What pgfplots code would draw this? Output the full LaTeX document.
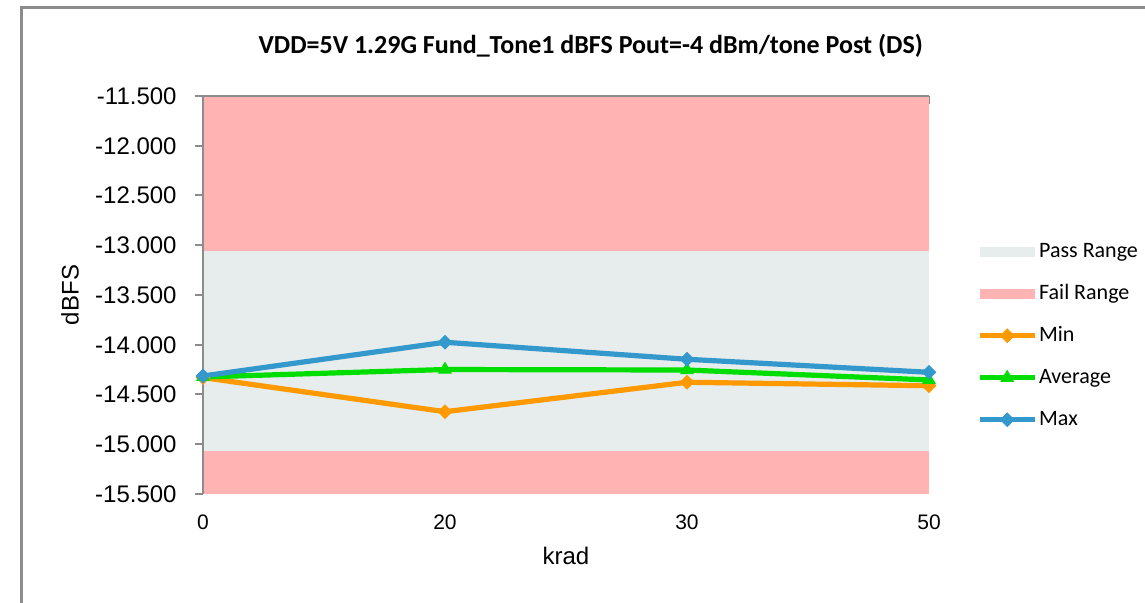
\documentclass[border=0pt]{standalone}
\usepackage{fontspec}
\setmainfont{Liberation Sans}
\newfontfamily\carlito{Carlito}
\usepackage{pgfplots}
\pgfplotsset{compat=1.18}

\definecolor{passgray}{RGB}{231,236,236}
\definecolor{failpink}{RGB}{255,179,179}
\definecolor{minorange}{RGB}{255,153,0}
\definecolor{avggreen}{RGB}{0,221,0}
\definecolor{maxblue}{RGB}{51,153,204}
\definecolor{axgray}{RGB}{140,140,140}

\begin{document}
\begin{tikzpicture}
\begin{axis}[
    scale only axis,
    width=363pt, height=199pt,
    at={(0pt,0pt)}, anchor=south west,
    xmin=0, xmax=3, ymin=-15.5, ymax=-11.5,
    xtick={0,1,2,3}, xticklabels={0,20,30,50},
    ytick={-15.5,-15,...,-11.5},
    axis line style={draw=none},
    xtick pos=upper, xticklabel pos=lower,
    ytick pos=left,
    x tick style={axgray, line width=1pt},
    y tick style={axgray, line width=1pt},
    xtick align=inside, ytick align=outside,
    major tick length=4pt,
    xticklabel style={font=\fontsize{10.5}{12}\selectfont, anchor=center, yshift=-14pt},
    yticklabel style={font=\fontsize{12}{14}\selectfont, anchor=east, inner sep=0pt, xshift=-9pt},
    /pgf/number format/.cd, fixed, fixed zerofill, precision=3, 1000 sep={}, assume math mode=true,
    /pgfplots/.cd,
    xlabel={krad}, ylabel={dBFS},
    xlabel style={font=\fontsize{12}{14}\selectfont, at={(rel axis cs:0.5,-0.156)}, anchor=center},
    ylabel style={font=\fontsize{12}{14}\selectfont, at={(rel axis cs:-0.183,0.5)}, anchor=center},
    legend style={draw=none, fill=none, at={(rel axis cs:1.066,0.636)}, anchor=north west,
        inner sep=0pt, row sep=10.5pt,
        font=\carlito\fontsize{11}{12}\selectfont,
        nodes={inner ysep=0pt, inner xsep=1pt, text height=8pt, text depth=2.5pt}},
    legend cell align=left,
    legend image code/.code={\draw[mark repeat=2, mark phase=2, #1] plot coordinates {(0cm,0cm) (0.48cm,0cm) (0.96cm,0cm)};},
    clip=false,
]
% Pass range
\addplot[fill=passgray, draw=none, area legend,
    legend image code/.code={\fill[passgray] (0cm,-0.09cm) rectangle (0.96cm,0.09cm);}]
    coordinates {(0,-15.07) (3,-15.07) (3,-13.06) (0,-13.06)} -- cycle;
\addlegendentry{Pass Range}
% Fail range (upper and lower)
\addplot[fill=failpink, draw=none, area legend,
    legend image code/.code={\fill[failpink] (0cm,-0.09cm) rectangle (0.96cm,0.09cm);}]
    coordinates {(0,-13.06) (3,-13.06) (3,-11.5) (0,-11.5)} -- cycle;
\addlegendentry{Fail Range}
\addplot[fill=failpink, draw=none, forget plot]
    coordinates {(0,-15.5) (3,-15.5) (3,-15.07) (0,-15.07)} -- cycle;

% Min
\addplot[minorange, line width=2.6pt, mark=square*, mark size=2.4pt,
    mark options={rotate=45, line width=0.4pt, fill=minorange}]
    coordinates {(0,-14.33) (1,-14.673) (2,-14.377) (3,-14.412)};
\addlegendentry{Min}
% Average
\addplot[avggreen, line width=2.6pt, mark=triangle*, mark size=3.6pt,
    mark options={line width=0.4pt, fill=avggreen}]
    coordinates {(0,-14.324) (1,-14.249) (2,-14.254) (3,-14.354)};
\addlegendentry{Average}
% Max
\addplot[maxblue, line width=2.6pt, mark=square*, mark size=2.4pt,
    mark options={rotate=45, line width=0.4pt, fill=maxblue}]
    coordinates {(0,-14.314) (1,-13.975) (2,-14.146) (3,-14.277)};
\addlegendentry{Max}

% axis lines (top and left)
\draw[axgray, line width=1pt] (rel axis cs:0,0) -- (rel axis cs:0,1) -- (rel axis cs:1,1);

\node[font=\carlito\bfseries\fontsize{13}{15}\selectfont, anchor=center]
    at (rel axis cs:0.534,1.126) {VDD=5V 1.29G Fund\_Tone1 dBFS Pout=-4 dBm/tone Post (DS)};
\end{axis}
% chart frame
\draw[axgray, line width=1.5pt] (-90.75pt,-60pt) -- (-90.75pt,243pt) -- (480pt,243pt);
\pgfresetboundingbox
\path[use as bounding box] (-101.5pt,-54.5pt) rectangle (471pt,247pt);
\end{tikzpicture}
\end{document}
